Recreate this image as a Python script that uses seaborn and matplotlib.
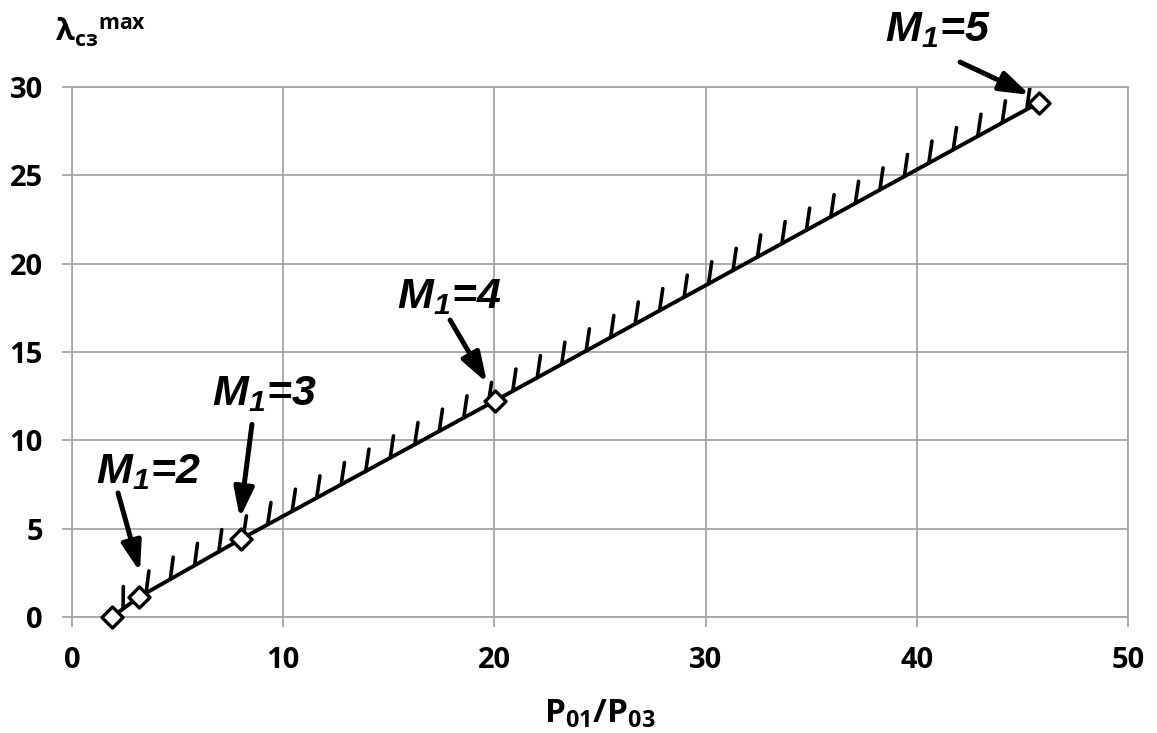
import numpy as np
import pandas as pd
import matplotlib
matplotlib.use("Agg")
import matplotlib.pyplot as plt
import matplotlib.patheffects as pe
import seaborn as sns

# ---- data ----
pressure_ratio = [1.89, 3.17, 8.0, 20.03, 45.78]
lambda_max = [0.0, 1.13, 4.41, 12.24, 29.11]

mach_values = ["2", "3", "4", "5"]
label_x = [3.6, 9.09, 17.85, 41.0]
label_y = [7.58, 12.0, 17.49, 32.6]
arrow_tail_x = [2.18, 8.52, 17.9, 42.05]
arrow_tail_y = [7.02, 10.9, 16.81, 31.41]
arrow_tip_x = [3.22, 7.95, 19.65, 45.36]
arrow_tip_y = [2.55, 5.6, 13.25, 29.55]

x_ticks = [0, 10, 20, 30, 40, 50]
y_ticks = [0, 5, 10, 15, 20, 25, 30]

df = pd.DataFrame({"p": pressure_ratio, "lam": lambda_max})

sns.set_theme(style="whitegrid")
plt.rcParams["font.family"] = ["Open Sans", "DejaVu Sans"]
plt.rcParams["font.weight"] = "bold"
plt.rcParams["mathtext.fontset"] = "custom"
plt.rcParams["mathtext.rm"] = "Open Sans:bold"
plt.rcParams["mathtext.bf"] = "Liberation Sans:bold:italic"
plt.rcParams["mathtext.it"] = "Liberation Sans:bold:italic"

fig = plt.figure(figsize=(11.57, 7.33), dpi=100)
ax = fig.add_axes([72 / 1157, 1 - 617 / 733, (1128 - 72) / 1157, 530 / 733])

grey = "#a6a6a6"

# main line with hatching on the upper side
sns.lineplot(data=df, x="p", y="lam", ax=ax, color="black", lw=2.8,
             sort=True, estimator=None,
             path_effects=[pe.withTickedStroke(spacing=20, angle=53, length=0.8,
                                               linewidth=2.6, foreground="black")])
# diamond markers
sns.scatterplot(data=df, x="p", y="lam", ax=ax, marker="D", s=115,
                facecolor="white", edgecolor="black", linewidth=2.4,
                zorder=5, clip_on=False)

ax.set_xlim(0, 50)
ax.set_ylim(0, 30)
ax.set_xticks(x_ticks)
ax.set_yticks(y_ticks)
ax.set_xlabel("")
ax.set_ylabel("")

ax.grid(True, color=grey, lw=1.3)
ax.set_axisbelow(True)
for s in ax.spines.values():
    s.set_visible(True)
    s.set_color(grey)
    s.set_linewidth(1.3)
ax.tick_params(axis="both", which="major", bottom=True, left=True,
               direction="out", length=7, width=1.3, color=grey,
               pad=14, labelsize=21, labelcolor="black")
for lbl in ax.get_xticklabels() + ax.get_yticklabels():
    lbl.set_fontweight("bold")

# annotations
for m, tx, ty, ax0, ay0, ax1, ay1 in zip(mach_values, label_x, label_y,
                                          arrow_tail_x, arrow_tail_y,
                                          arrow_tip_x, arrow_tip_y):
    ax.text(tx, ty, r"$\mathbf{M_1}$=" + m, ha="center", va="baseline",
            fontsize=31, family="Liberation Sans", fontweight="bold",
            fontstyle="italic", color="black", clip_on=False)
    ax.annotate("", xy=(ax1, ay1), xytext=(ax0, ay0),
                arrowprops=dict(arrowstyle="-|>,head_length=0.9,head_width=0.3",
                                color="black", lw=3.6, mutation_scale=20,
                                shrinkA=0, shrinkB=0),
                annotation_clip=False)

# axis titles
fig.text(600 / 1157, 1 - 723 / 733, r"$\mathrm{P_{01}/P_{03}}$", ha="center",
         va="baseline", fontsize=24, color="black")
fig.text(55 / 1157, 1 - 42 / 733, r"$\mathrm{λ_{сз}{}^{max}}$", ha="left",
         va="baseline", fontsize=22, color="black")

fig.savefig("out.png", dpi=100)
